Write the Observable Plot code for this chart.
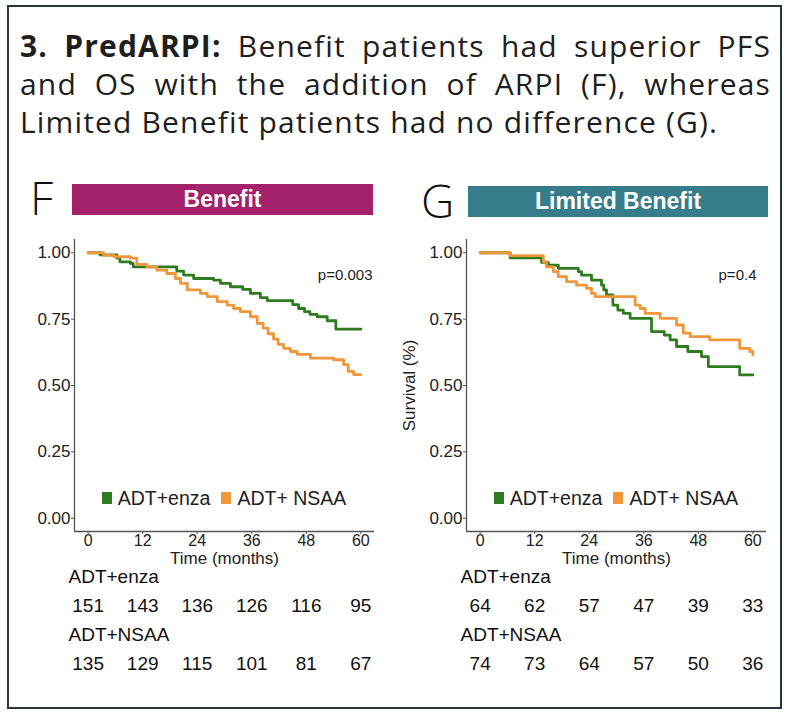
<!DOCTYPE html>
<html>
<head>
<meta charset="utf-8">
<script src="https://cdn.jsdelivr.net/npm/d3@7"></script>
<script src="https://cdn.jsdelivr.net/npm/@observablehq/plot@0.6"></script>
<style>
  html, body { margin: 0; padding: 0; background: #fff; }
  #page { position: relative; width: 792px; height: 722px; overflow: hidden; background: #fff; }
  #frame { position: absolute; left: 7px; top: 5px; width: 775px; height: 704px; border: 2px solid #26393a; box-sizing: border-box; }
  #title { position: absolute; left: 20px; top: 27px; width: 751px; font-family: "Open Sans", sans-serif; font-size: 30px; line-height: 38px; color: #1e1e1e; }
  #title .j { text-align: justify; text-align-last: justify; white-space: nowrap; }
  #title .l { white-space: nowrap; display: inline-block; }
  #title b { font-weight: 700; }
  .letter { position: absolute; font-family: "Open Sans", sans-serif; font-weight: 300; font-size: 46px; line-height: 46px; color: #111; }
  .bar { position: absolute; height: 31px; color: #fff; font-family: "Liberation Sans", Arial, sans-serif; font-weight: 700; font-size: 23px; line-height: 31px; text-align: center; }
  .plot { position: absolute; }
  .legend { position: absolute; top: 488px; width: 300px; display: flex; justify-content: center; align-items: center; gap: 11px; font-family: "Liberation Sans", Arial, sans-serif; font-size: 19.5px; line-height: 20px; color: #222; }
  .legend span.item { display: flex; align-items: center; gap: 6px; }
  .legend i { display: inline-block; width: 10px; height: 12px; }
</style>
</head>
<body>
<div id="page">
  <div id="frame"></div>
  <div id="title">
    <div class="j"><b>3. PredARPI:</b> Benefit patients had superior PFS</div>
    <div class="j">and OS with the addition of ARPI (F), whereas</div>
    <div><span class="l" id="line3">Limited Benefit patients had no difference (G).</span></div>
  </div>
  <div class="letter" style="left:30px; top:174px;">F</div>
  <div class="bar" style="left:72px; top:184px; width:301px; background:#a3206b;">Benefit</div>
  <div class="letter" style="left:421px; top:177px;">G</div>
  <div class="bar" style="left:468px; top:186px; width:300px; background:#377c8b;">Limited Benefit</div>
</div>
<script>
// ---- data ----
const groups = ["ADT+enza", "ADT+ NSAA"];
const colors = ["#2f7b1f", "#f0973a"];
const months = [0, 12, 24, 36, 48, 60];
const yTicks = [0, 0.25, 0.5, 0.75, 1];
const xDomain = [-3, 63];
const yDomain = [-0.05, 1.05];

// Panel F (Benefit)
const fEnzaT = [0, 2.6, 6.3, 7, 9.3, 9.9, 19.5, 21, 23.2, 27.6, 29.1, 31.3, 34, 35.7, 37.9, 39.4, 45, 46.3, 47.6, 48.8, 50.4, 52.6, 54.5, 60];
const fEnzaS = [1.0, 0.992, 0.98, 0.966, 0.96, 0.947, 0.931, 0.916, 0.903, 0.897, 0.885, 0.872, 0.862, 0.847, 0.831, 0.82, 0.805, 0.79, 0.778, 0.768, 0.759, 0.744, 0.712, 0.712];
const fNsaaT = [0, 3.4, 5.7, 9.3, 10.7, 12.9, 15.1, 17.3, 19.2, 20.3, 21.8, 24.7, 26.2, 28.4, 30.6, 32, 33.5, 35.7, 37.2, 38.5, 39.6, 40.8, 41.8, 43, 44.5, 46, 48.9, 54, 56.2, 57.2, 58.4, 60];
const fNsaaS = [1.0, 0.99, 0.985, 0.98, 0.956, 0.947, 0.935, 0.922, 0.903, 0.885, 0.86, 0.847, 0.835, 0.816, 0.803, 0.79, 0.778, 0.759, 0.734, 0.716, 0.695, 0.675, 0.655, 0.64, 0.628, 0.617, 0.603, 0.597, 0.579, 0.553, 0.541, 0.541];

// Panel G (Limited Benefit)
const gEnzaT = [0, 6.6, 13.5, 15, 17.2, 21.6, 22.3, 24.5, 26.7, 27.2, 27.8, 29.2, 30.3, 31.5, 33, 37.7, 40.5, 41.8, 43.2, 45.7, 48.7, 50.2, 57.1, 60];
const gEnzaS = [1.0, 0.981, 0.964, 0.953, 0.941, 0.929, 0.916, 0.897, 0.878, 0.86, 0.841, 0.803, 0.784, 0.772, 0.753, 0.703, 0.69, 0.672, 0.647, 0.628, 0.609, 0.571, 0.54, 0.54];
const gNsaaT = [0, 6.6, 13.9, 14.6, 16.1, 17.2, 19, 21.2, 23.4, 24.5, 25.3, 34.1, 35.2, 36.3, 39.6, 43.2, 44.7, 46.2, 50.5, 57.1, 59.3, 60];
const gNsaaS = [1.0, 0.989, 0.966, 0.947, 0.929, 0.91, 0.891, 0.878, 0.866, 0.847, 0.835, 0.803, 0.79, 0.772, 0.753, 0.728, 0.697, 0.684, 0.672, 0.64, 0.628, 0.615];

// Numbers at risk
const riskLabels = ["ADT+enza", "ADT+NSAA"];
const fRiskEnza = [151, 143, 136, 126, 116, 95];
const fRiskNsaa = [135, 129, 115, 101, 81, 67];
const gRiskEnza = [64, 62, 57, 47, 39, 33];
const gRiskNsaa = [74, 73, 64, 57, 50, 36];

const fP = "p=0.003";
const gP = "p=0.4";
const xLabel = "Time (months)";
const yLabelG = "Survival (%)";

// ---- title fit: last line reaches ~698px in the reference ----
(function () {
  const l3 = document.getElementById("line3");
  const w = l3.getBoundingClientRect().width;
  const n = l3.textContent.length;
  const ls = Math.max(-1, Math.min(3, (698 - w) / n));
  document.getElementById("title").style.letterSpacing = ls + "px";
})();

// ---- build ----
const font = "'Liberation Sans', Arial, Helvetica, sans-serif";
function series(ts, ss, g) { return ts.map((t, i) => ({t, s: ss[i], group: g})); }

function survPlot({data, marginLeft, yLabel, pText, pDx}) {
  const width = marginLeft + 300 + 15;
  return Plot.plot({
    width, height: 336,
    marginLeft, marginRight: 15, marginTop: 5, marginBottom: 39,
    style: {fontFamily: font, fontSize: "16px", color: "#222", background: "transparent", overflow: "visible"},
    x: {domain: xDomain},
    y: {domain: yDomain},
    color: {domain: groups, range: colors},
    marks: [
      Plot.axisY({ticks: yTicks, tickFormat: d3.format(".2f"), tickSize: 3, tickPadding: 1, fontSize: 17,
        label: yLabel, labelAnchor: "center", labelOffset: 64, labelArrow: "none", stroke: "#555"}),
      Plot.axisX({ticks: months, tickFormat: d3.format("d"), tickSize: 3, tickPadding: 0, fontSize: 16,
        label: null, stroke: "#555"}),
      Plot.text([xLabel], {frameAnchor: "bottom", lineAnchor: "top", dy: 20, fontSize: 17, fill: "#222"}),
      Plot.ruleX([xDomain[0]], {y1: yDomain[0], y2: yDomain[1], stroke: "#555", strokeWidth: 1.3}),
      Plot.ruleY([yDomain[0]], {x1: xDomain[0], x2: xDomain[1], stroke: "#555", strokeWidth: 1.3}),
      Plot.line(data, {x: "t", y: "s", z: "group", stroke: "group", curve: "step-after", strokeWidth: 2.8}),
      Plot.text([pText], {frameAnchor: "top-right", dx: pDx, dy: 30, fontSize: 15, fill: "#222"})
    ]
  });
}

function riskPlot({marginLeft, enza, nsaa}) {
  const width = marginLeft + 300 + 15;
  const rows = ["l0", "n0", "l1", "n1"];
  const labels = [{row: "l0", label: riskLabels[0]}, {row: "l1", label: riskLabels[1]}];
  const nums = [
    ...months.map((t, i) => ({t, row: "n0", n: enza[i]})),
    ...months.map((t, i) => ({t, row: "n1", n: nsaa[i]}))
  ];
  return Plot.plot({
    width, height: 112,
    marginLeft, marginRight: 15, marginTop: 16, marginBottom: 9,
    style: {fontFamily: font, fontSize: "19px", color: "#111", background: "transparent", overflow: "visible"},
    x: {domain: xDomain, axis: null},
    y: {type: "point", domain: rows, padding: 0, axis: null},
    marks: [
      Plot.text(labels, {y: "row", text: "label", frameAnchor: "left", textAnchor: "start", dx: -6, fontSize: 19, fill: "#111"}),
      Plot.text(nums, {x: "t", y: "row", text: "n", fontSize: 19, fill: "#111"})
    ]
  });
}

function place(el, left, top) {
  el.classList.add("plot");
  el.style.left = left + "px";
  el.style.top = top + "px";
  document.getElementById("page").appendChild(el);
}

function legend(left) {
  const d = document.createElement("div");
  d.className = "legend";
  d.style.left = left + "px";
  groups.forEach((g, i) => {
    const s = document.createElement("span");
    s.className = "item";
    const sw = document.createElement("i");
    sw.style.background = colors[i];
    s.appendChild(sw);
    s.appendChild(document.createTextNode(g));
    d.appendChild(s);
  });
  document.getElementById("page").appendChild(d);
}

const fData = [...series(fEnzaT, fEnzaS, groups[0]), ...series(fNsaaT, fNsaaS, groups[1])];
const gData = [...series(gEnzaT, gEnzaS, groups[0]), ...series(gNsaaT, gNsaaS, groups[1])];

place(survPlot({data: fData, marginLeft: 55, yLabel: null, pText: fP, pDx: -2}), 19, 234);
place(survPlot({data: gData, marginLeft: 70, yLabel: yLabelG, pText: gP, pDx: -10}), 396, 234);
legend(74);
legend(466);
place(riskPlot({marginLeft: 55, enza: fRiskEnza, nsaa: fRiskNsaa}), 19, 560);
place(riskPlot({marginLeft: 70, enza: gRiskEnza, nsaa: gRiskNsaa}), 396, 560);
</script>
</body>
</html>
